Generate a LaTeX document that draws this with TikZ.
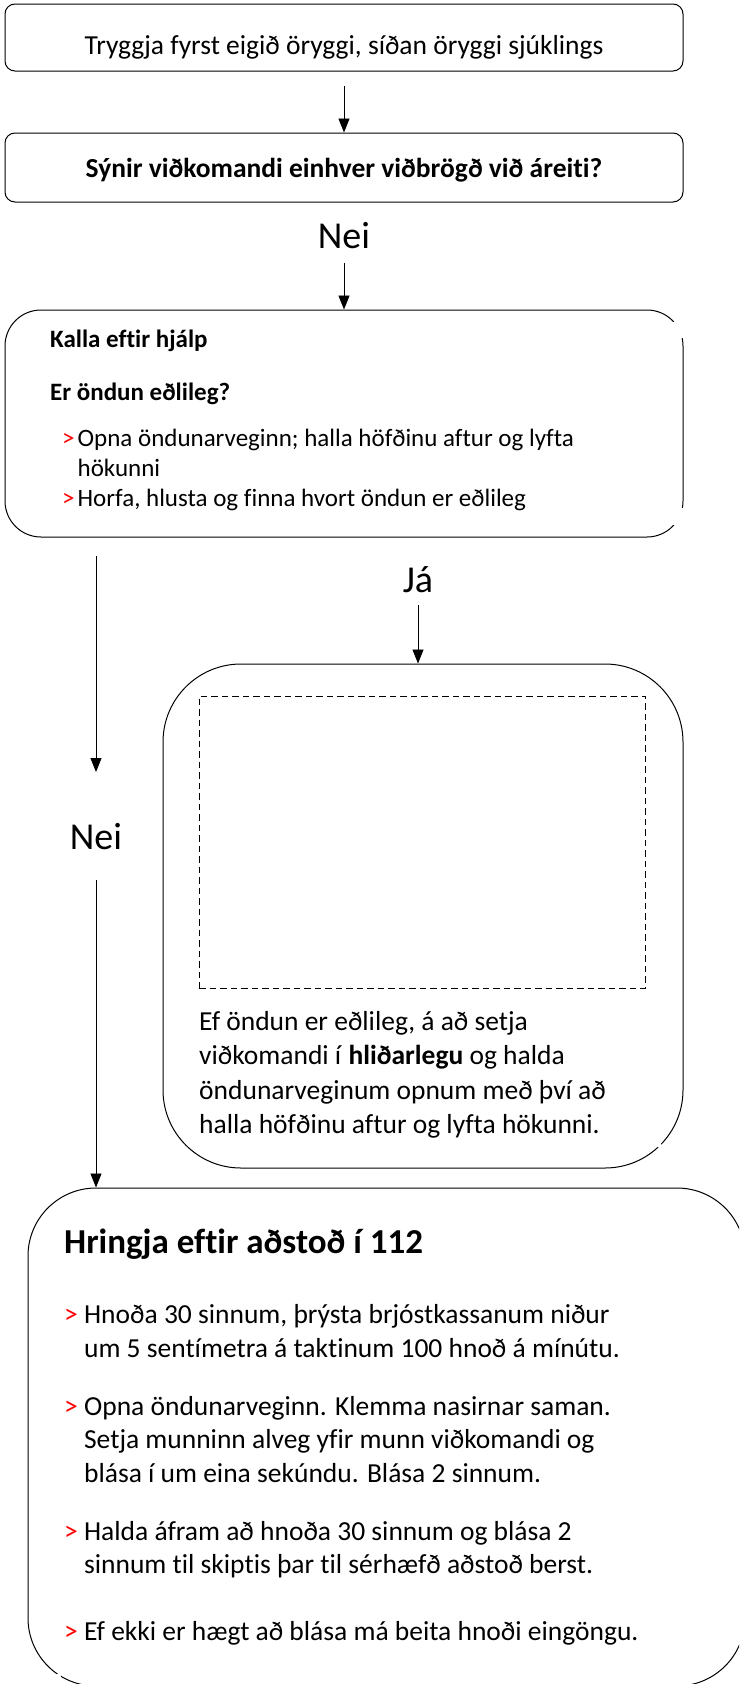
\documentclass[tikz,border=0pt]{standalone}
\usepackage{fontspec}
\setmainfont{Carlito}[Ligatures=NoCommon]
\usetikzlibrary{arrows.meta}
\newcommand{\rd}{\textcolor{red}{>}}
\tikzset{
  box/.style={draw, line width=1pt, inner sep=0pt, rounded corners=#1},
  arr/.style={line width=0.9pt, -{Triangle[width=11pt,length=14pt]}},
  txt/.style={anchor=base west, inner sep=0pt},
  ctxt/.style={anchor=base, inner sep=0pt},
  fa/.style={font=\fontsize{27.5}{33}\selectfont},
  fab/.style={font=\fontsize{27.5}{33}\selectfont\bfseries},
  fb/.style={font=\fontsize{25}{30}\selectfont},
  fbb/.style={font=\fontsize{25}{30}\selectfont\bfseries},
  fbig/.style={font=\fontsize{38}{44}\selectfont},
  ftitle/.style={font=\fontsize{35}{42}\selectfont\bfseries},
  gap/.style={fill=white, draw=none},
}
\begin{document}
\begin{tikzpicture}[x=1pt,y=-1pt]
\useasboundingbox (0,0) rectangle (739,1684);
\clip (0,0) rectangle (739,1684);

% boxes
\node[box=10pt, minimum width=678pt, minimum height=67pt] (b1) at (344,37.5) {};
\node[box=10pt, minimum width=678pt, minimum height=69pt] (b2) at (344,167.5) {};
\node[box=36pt, minimum width=678pt, minimum height=227pt] (b3) at (344,423.5) {};
\node[box=78pt, minimum width=520pt, minimum height=504pt] (b4) at (423,916) {};
\node[draw, line width=1pt, dash pattern=on 6.5pt off 4pt, inner sep=0pt, minimum width=446pt, minimum height=292pt] (pic) at (422,842) {};
\node[box=68pt, minimum width=717pt, minimum height=498pt] (b5) at (386.5,1437) {};

% small breaks in the outlines
\fill[gap] (671,322) rectangle (692,338);
\fill[gap] (671,508) rectangle (692,525);
\fill[gap] (659,1145) circle (2.5pt);
\fill[gap] (58.5,1676) circle (2.5pt);

% texts
\node[ctxt, fa] (t1) at (344,54) {Tryggja fyrst eigið öryggi, síðan öryggi sjúklings};
\node[ctxt, fab] (t2) at (344,177) {Sýnir viðkomandi einhver viðbrögð við áreiti?};
\node[ctxt, fbig] (nei1) at (344,248) {Nei};

\node[txt, fbb] (k1) at (50,347) {Kalla eftir hjálp};
\node[txt, fbb] (k2) at (50,400) {Er öndun eðlileg?};
\node[txt, fb] (k3) at (62,446) {\rd\kern3pt Opna öndunarveginn; halla höfðinu aftur og lyfta};
\node[txt, fb] (k4) at (62,476) {\phantom{>}\kern3pt hökunni};
\node[txt, fb] (k5) at (62,506) {\rd\kern3pt Horfa, hlusta og finna hvort öndun er eðlileg};

\node[ctxt, fbig] (ja) at (418,592) {Já};
\node[ctxt, fbig] (nei2) at (96,849) {Nei};

\node[txt, fa] (e1) at (199,1030) {Ef öndun er eðlileg, á að setja};
\node[txt, fa] (e2) at (199,1064.5) {viðkomandi í \textbf{hliðarlegu} og halda};
\node[txt, fa] (e3) at (199,1099) {öndunarveginum opnum með því að};
\node[txt, fa] (e4) at (199,1133.5) {halla höfðinu aftur og lyfta hökunni.};

\node[txt, ftitle] (h0) at (64,1253) {Hringja eftir aðstoð í 112};
\node[txt, fa] (h1) at (64,1323) {\rd{} Hnoða 30 sinnum, þrýsta brjóstkassanum niður};
\node[txt, fa] (h2) at (64,1357) {\phantom{> }um 5 sentímetra á taktinum 100 hnoð á mínútu.};
\node[txt, fa] (h3) at (64,1415) {\rd{} Opna öndunarveginn. Klemma nasirnar saman.};
\node[txt, fa] (h4) at (64,1448.5) {\phantom{> }Setja munninn alveg yfir munn viðkomandi og};
\node[txt, fa] (h5) at (64,1482) {\phantom{> }blása í um eina sekúndu. Blása 2 sinnum.};
\node[txt, fa] (h6) at (64,1540) {\rd{} Halda áfram að hnoða 30 sinnum og blása 2};
\node[txt, fa] (h7) at (64,1573) {\phantom{> }sinnum til skiptis þar til sérhæfð aðstoð berst.};
\node[txt, fa] (h8) at (64,1640) {\rd{} Ef ekki er hægt að blása má beita hnoði eingöngu.};

% connectors
\coordinate (a1s) at (344,86);
\draw[arr] (a1s) -- (b2.north);
\coordinate (a2s) at (344,263);
\draw[arr] (a2s) -- (b3.north);
\coordinate (a3s) at (418,605);
\draw[arr] (a3s) -- (a3s |- b4.north);
\coordinate (a4s) at (96,556);
\coordinate (a4e) at (96,772);
\draw[arr] (a4s) -- (a4e);
\coordinate (a5s) at (96,880);
\draw[arr] (a5s) -- (a5s |- b5.north);
\end{tikzpicture}
\end{document}
